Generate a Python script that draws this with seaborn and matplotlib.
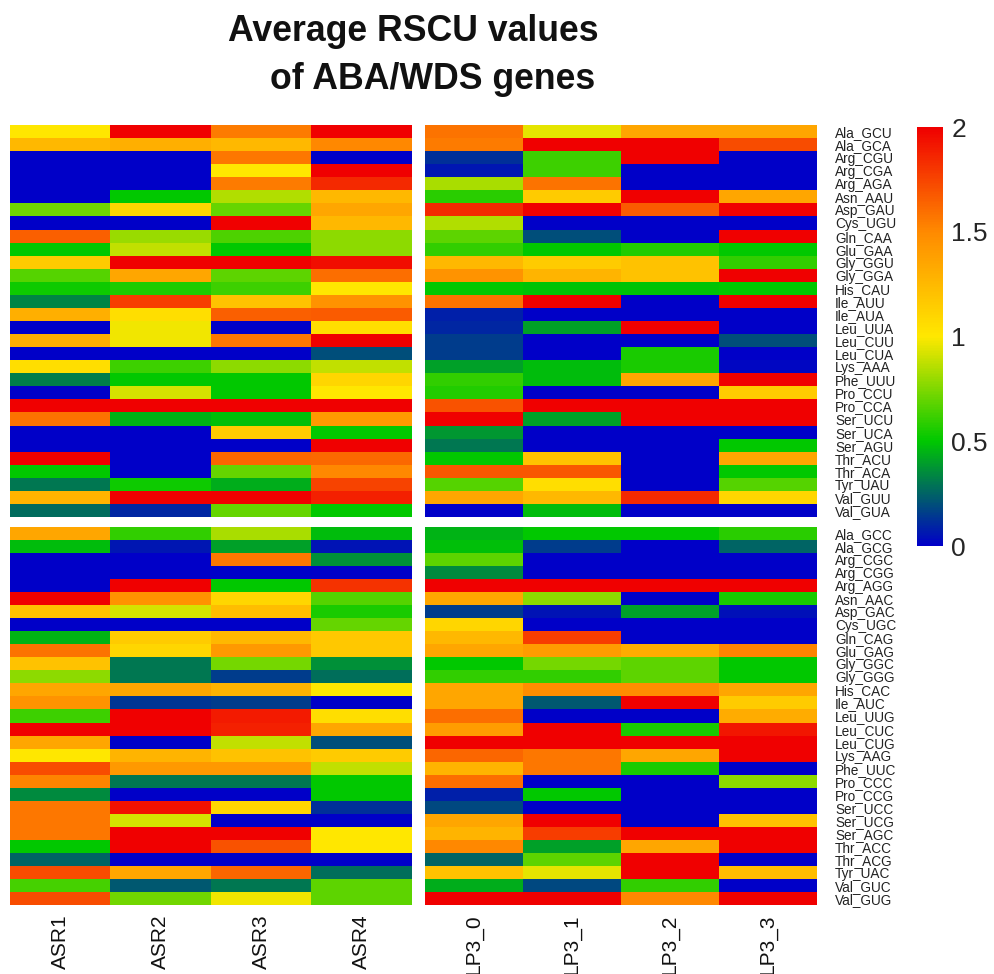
import numpy as np
import pandas as pd
import matplotlib
matplotlib.use("Agg")
import matplotlib.pyplot as plt
import seaborn as sns
from matplotlib.colors import LinearSegmentedColormap

sns.set_style("white")
plt.rcParams['font.family'] = ['Liberation Sans', 'DejaVu Sans']

# ---------------- data ----------------
left_groups = ["ASR1", "ASR2", "ASR3", "ASR4"]
right_groups = ["LP3_0", "LP3_1", "LP3_2", "LP3_3"]

top_codons = ["Ala_GCU", "Ala_GCA", "Arg_CGU", "Arg_CGA", "Arg_AGA", "Asn_AAU", "Asp_GAU",
              "Cys_UGU", "Gln_CAA", "Glu_GAA", "Gly_GGU", "Gly_GGA", "His_CAU", "Ile_AUU",
              "Ile_AUA", "Leu_UUA", "Leu_CUU", "Leu_CUA", "Lys_AAA", "Phe_UUU", "Pro_CCU",
              "Pro_CCA", "Ser_UCU", "Ser_UCA", "Ser_AGU", "Thr_ACU", "Thr_ACA", "Tyr_UAU",
              "Val_GUU", "Val_GUA"]
bottom_codons = ["Ala_GCC", "Ala_GCG", "Arg_CGC", "Arg_CGG", "Arg_AGG", "Asn_AAC", "Asp_GAC",
                 "Cys_UGC", "Gln_CAG", "Glu_GAG", "Gly_GGC", "Gly_GGG", "His_CAC", "Ile_AUC",
                 "Leu_UUG", "Leu_CUC", "Leu_CUG", "Lys_AAG", "Phe_UUC", "Pro_CCC", "Pro_CCG",
                 "Ser_UCC", "Ser_UCG", "Ser_AGC", "Thr_ACC", "Thr_ACG", "Tyr_UAC", "Val_GUC",
                 "Val_GUG"]

top_left = [
    [1.0, 2.0, 1.55, 2.0], [1.25, 1.3, 1.25, 1.5], [0, 0, 1.57, 0], [0, 0, 1.0, 2.0],
    [0, 0, 1.55, 1.85], [0, 0.5, 0.85, 1.25], [0.72, 1.1, 0.7, 1.35], [0, 0, 2.0, 1.25],
    [1.65, 0.8, 0.65, 0.78], [0.5, 0.88, 0.5, 0.78], [1.15, 2.0, 2.0, 1.95], [0.67, 1.35, 0.68, 1.6],
    [0.53, 0.56, 0.62, 1.0], [0.33, 1.78, 1.2, 1.45], [1.3, 1.05, 1.65, 1.67], [0, 0.97, 0, 1.05],
    [1.3, 0.97, 1.57, 2.0], [0, 0, 0, 0.2], [1.05, 0.62, 0.78, 0.88], [0.32, 0.5, 0.5, 1.1],
    [0, 0.92, 0.5, 1.0], [2, 2, 2, 2], [1.58, 0.45, 0.48, 1.42], [0, 0, 1.15, 0.5],
    [0, 0, 0, 2.0], [2.0, 0, 1.63, 1.62], [0.5, 0, 0.7, 1.5], [0.3, 0.53, 0.43, 1.75],
    [1.28, 2.0, 2.0, 1.88], [0.27, 0.1, 0.7, 0.5]]
top_right = [
    [1.58, 0.95, 1.35, 1.35], [1.55, 2, 2, 1.72], [0.12, 0.62, 2, 0], [0.06, 0.62, 0, 0],
    [0.83, 1.58, 0, 0], [0.58, 1.15, 2, 1.35], [1.85, 2, 1.67, 2], [0.85, 0, 0, 0],
    [0.68, 0.2, 0, 2], [0.6, 0.5, 0.57, 0.5], [1.25, 1.15, 1.2, 0.6], [1.45, 1.28, 1.2, 2],
    [0.5, 0.49, 0.49, 0.5], [1.58, 2, 0, 2], [0.08, 0, 0, 0], [0.1, 0.4, 2, 0],
    [0.15, 0, 0, 0.2], [0.15, 0, 0.55, 0], [0.4, 0.47, 0.55, 0.02], [0.6, 0.47, 1.35, 2],
    [0.57, 0, 0, 1.15], [1.7, 2, 2, 2], [2, 0.4, 2, 2], [0.38, 0, 0, 0],
    [0.3, 0, 0, 0.5], [0.5, 1.2, 0, 1.35], [1.68, 1.68, 0, 0.5], [0.67, 1.05, 0, 0.67],
    [1.35, 1.25, 1.85, 1.1], [0, 0.47, 0, 0]]
bottom_left = [
    [1.35, 0.6, 0.83, 0.47], [0.47, 0.06, 0.4, 0.05], [0, 0, 1.57, 0.36], [0, 0, 0, 0],
    [0, 2, 0.5, 1.82], [2, 1.45, 1.1, 0.67], [1.2, 0.92, 1.23, 0.55], [0, 0, 0, 0.7],
    [0.45, 1.15, 1.25, 1.17], [1.58, 1.1, 1.42, 1.17], [1.2, 0.3, 0.73, 0.36], [0.78, 0.3, 0.15, 0.28],
    [1.35, 1.35, 1.28, 1.0], [1.45, 0.14, 0.15, 0], [0.62, 2, 1.9, 1.05], [2, 2, 1.88, 1.35],
    [1.35, 0, 0.88, 0.2], [1.0, 1.28, 1.2, 1.15], [1.72, 1.42, 1.42, 0.88], [1.52, 0.3, 0.3, 0.5],
    [0.35, 0, 0, 0.5], [1.57, 1.93, 1.1, 0.12], [1.57, 0.92, 0, 0], [1.57, 2, 2, 1.0],
    [0.5, 2, 1.7, 1.0], [0.25, 0, 0, 0], [1.72, 1.35, 1.63, 0.28], [0.64, 0.22, 0.3, 0.68],
    [1.72, 0.72, 0.97, 0.68]]
bottom_right = [
    [0.45, 0.5, 0.5, 0.58], [0.48, 0.15, 0, 0.25], [0.68, 0, 0, 0], [0.35, 0, 0, 0],
    [2, 2, 2, 2], [1.35, 0.78, 0, 0.55], [0.15, 0.05, 0.4, 0.04], [1.1, 0, 0, 0],
    [1.25, 1.78, 0, 0], [1.35, 1.4, 1.32, 1.52], [0.5, 0.73, 0.68, 0.5], [0.6, 0.6, 0.68, 0.5],
    [1.35, 1.48, 1.48, 1.35], [1.35, 0.22, 2, 1.15], [1.6, 0, 0, 1.32], [1.4, 2, 0.55, 1.92],
    [2, 2, 2, 2], [1.63, 1.57, 1.35, 2], [1.28, 1.57, 0.55, 0], [1.6, 0, 0, 0.78],
    [0.08, 0.5, 0, 0], [0.18, 0, 0, 0], [1.35, 2, 0, 1.2], [1.28, 1.78, 2, 2],
    [1.5, 0.4, 1.35, 2], [0.25, 0.68, 2, 0], [1.2, 0.95, 2, 1.23], [0.43, 0.18, 0.6, 0],
    [2, 2, 1.5, 2]]

cbar_ticks = [0, 0.5, 1, 1.5, 2]
cbar_ticklabels = ["0", "0.5", "1", "1.5", "2"]
title_lines = ["Average RSCU values", "of ABA/WDS genes"]

# ---------------- figure ----------------
W, H = 995, 974
fig = plt.figure(figsize=(W / 100, H / 100), dpi=100)
fig.patch.set_facecolor("white")


def rect(x0, y0, x1, y1):
    return [x0 / W, 1 - y1 / H, (x1 - x0) / W, (y1 - y0) / H]


cmap = LinearSegmentedColormap.from_list(
    "rscu", [(0.0, "#0000C8"), (0.25, "#00C800"), (0.5, "#FFE800"),
             (0.75, "#FF8A00"), (1.0, "#F00000")])

ax_tl = fig.add_axes(rect(10, 125, 412, 517))
ax_tr = fig.add_axes(rect(425, 125, 817, 517))
ax_bl = fig.add_axes(rect(10, 527, 412, 905))
ax_br = fig.add_axes(rect(425, 527, 817, 905))
cax = fig.add_axes(rect(917, 127, 943, 546))

panels = [
    (ax_tl, top_left, top_codons, left_groups, False, False),
    (ax_tr, top_right, top_codons, right_groups, True, False),
    (ax_bl, bottom_left, bottom_codons, left_groups, False, True),
    (ax_br, bottom_right, bottom_codons, right_groups, True, True),
]

for i, (ax, vals, rows, cols, show_y, show_x) in enumerate(panels):
    df = pd.DataFrame(vals, index=rows, columns=cols)
    sns.heatmap(df, ax=ax, cmap=cmap, vmin=0, vmax=2,
                cbar=(i == 0), cbar_ax=cax if i == 0 else None,
                xticklabels=show_x, yticklabels=show_y)
    ax.tick_params(length=0)
    if show_y:
        ax.yaxis.tick_right()
        ax.set_yticks(np.arange(len(rows)) + 0.5)
        ax.set_yticklabels(rows, rotation=0, fontsize=9.8, color="#222222")
        ax.tick_params(axis="y", pad=13)
    else:
        ax.set_yticks([])
    if show_x:
        ax.set_xticks(np.arange(len(cols)) + 0.5)
        ax.set_xticklabels(cols, rotation=90, fontsize=15, color="#111111")
        ax.tick_params(axis="x", pad=7)
    else:
        ax.set_xticks([])
    ax.set_xlabel("")
    ax.set_ylabel("")

cax.set_yticks(cbar_ticks)
cax.set_yticklabels(cbar_ticklabels, fontsize=19)
cax.tick_params(length=0, pad=6)
for s in cax.spines.values():
    s.set_visible(False)

fig.text(413 / W, 1 - 41 / H, title_lines[0], ha="center", va="baseline",
         fontsize=25.7, fontweight="bold", color="#111111")
fig.text(433 / W, 1 - 89 / H, title_lines[1], ha="center", va="baseline",
         fontsize=25.7, fontweight="bold", color="#111111")

fig.savefig("out.png", dpi=100)
